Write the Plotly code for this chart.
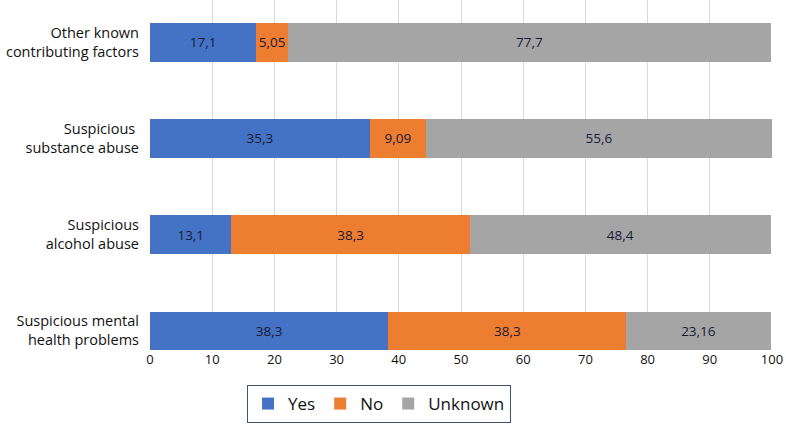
import plotly.graph_objects as go

categories = ["Suspicious mental<br>health problems", "Suspicious<br>alcohol abuse",
              "Suspicious <br>substance abuse", "Other known<br>contributing factors"]
yes_vals = [38.3, 13.1, 35.3, 17.1]
no_vals = [38.3, 38.3, 9.09, 5.05]
unknown_vals = [23.16, 48.4, 55.6, 77.7]
x_ticks = [0, 10, 20, 30, 40, 50, 60, 70, 80, 90, 100]

series = [("Yes", yes_vals, "#4472C4"), ("No", no_vals, "#ED7D31"), ("Unknown", unknown_vals, "#A5A5A5")]

def fmt(v):
    return f"{v:g}".replace(".", ",")

fig = go.Figure()
for name, vals, col in series:
    fig.add_trace(go.Bar(
        y=list(range(len(categories))), x=vals, name=name, orientation="h",
        marker=dict(color=col, line=dict(width=0)), width=0.4,
        text=[fmt(v) for v in vals], textposition="inside", insidetextanchor="middle",
        textangle=0,
        textfont=dict(color="#1a1a33", size=13.5, family="Open Sans"),
        constraintext="none",
    ))

fig.update_layout(
    barmode="stack",
    width=786, height=426,
    margin=dict(l=150, r=14, t=0, b=76),
    paper_bgcolor="white", plot_bgcolor="white",
    font=dict(family="Open Sans", size=13, color="#111111"),
    uniformtext=dict(mode="show", minsize=13),
    showlegend=True,
    legend=dict(orientation="h", x=0.156, y=-0.1, xanchor="left", yanchor="top",
                bordercolor="#44546A", borderwidth=1, font=dict(size=17, color="#111111"),
                traceorder="normal", itemwidth=30),
    xaxis=dict(range=[0, 100], tickvals=x_ticks, showgrid=True, gridcolor="#D9D9D9",
               zeroline=False, showline=False, ticks="", tickfont=dict(size=13)),
    yaxis=dict(range=[-0.2, 3.44], tickvals=list(range(len(categories))), ticktext=categories,
               showgrid=False, zeroline=False, showline=False, ticks="", ticklen=0,
               ticklabelstandoff=10,
               tickfont=dict(size=14.5, color="#111111")),
)
fig.write_html("out.html", config={"displayModeBar": False},
               post_script="document.body.style.margin='0';document.body.style.overflow='hidden';")
